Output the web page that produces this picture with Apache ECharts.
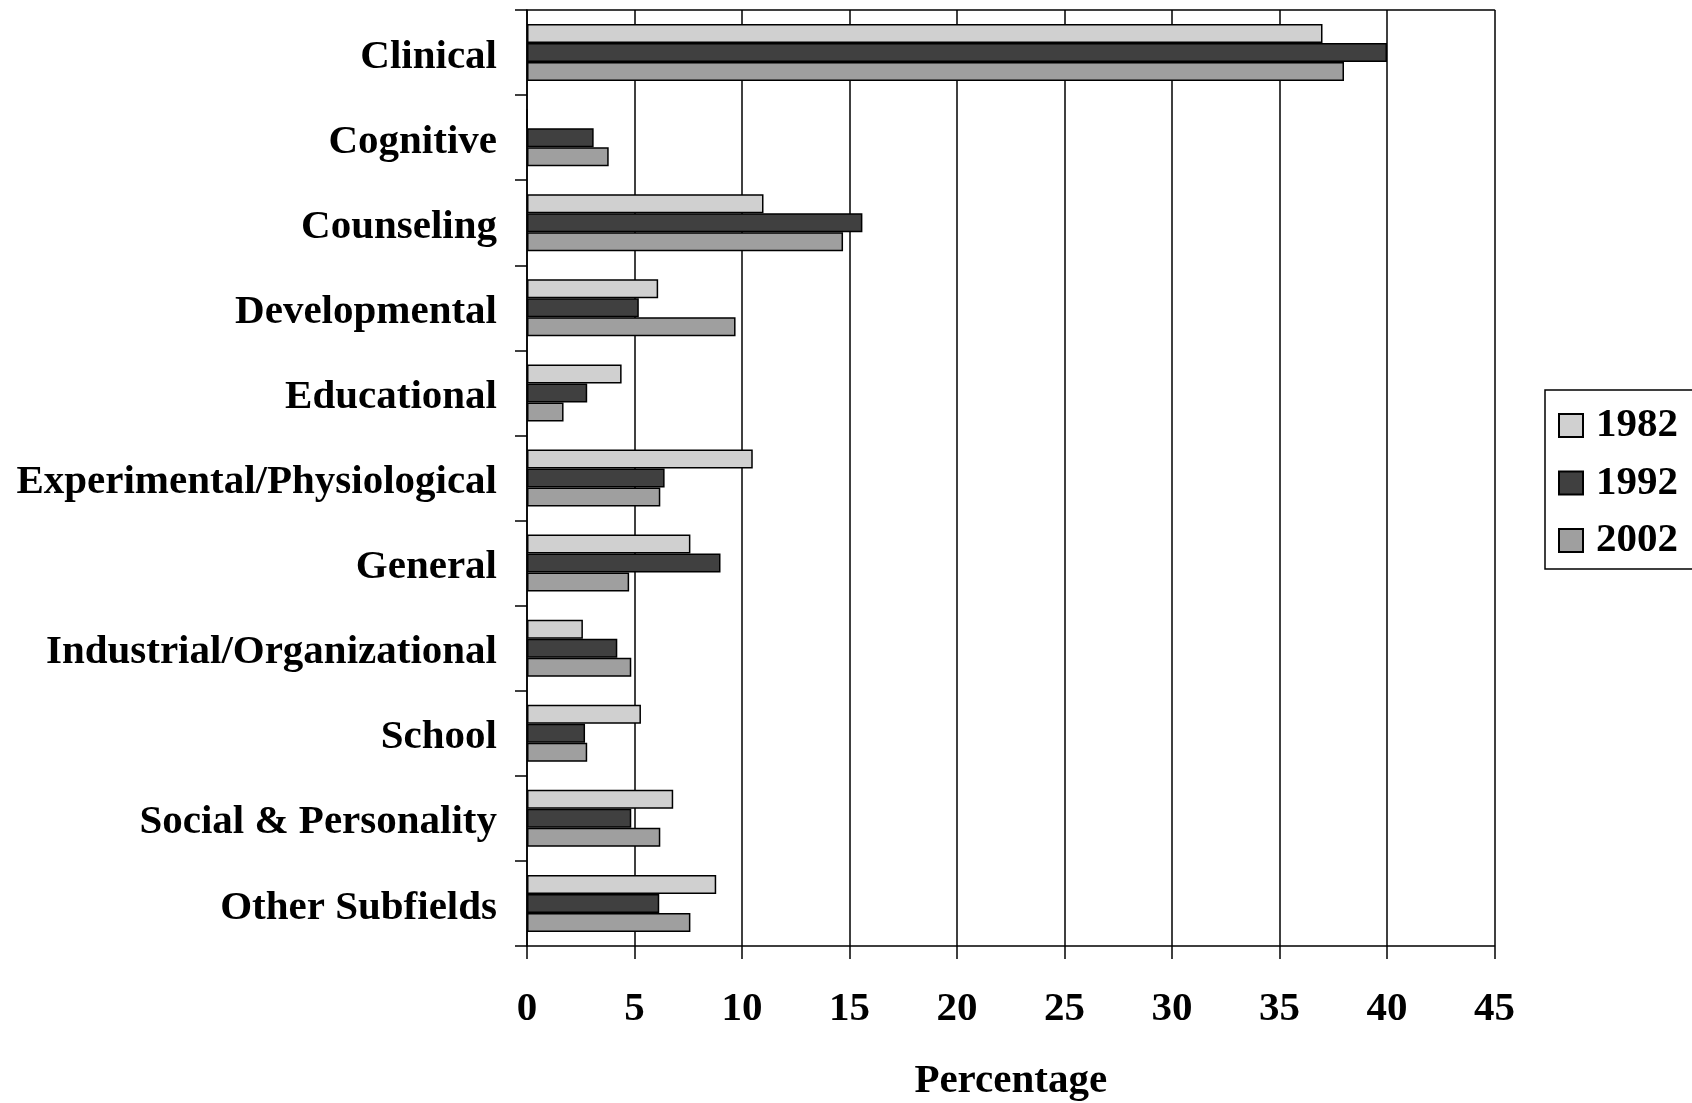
<!DOCTYPE html>
<html>
<head>
<meta charset="utf-8">
<script src="https://cdn.jsdelivr.net/npm/echarts@6/dist/echarts.min.js"></script>
<style>
html,body{margin:0;padding:0;background:#fff;}
#chart{width:1692px;height:1103px;}
</style>
</head>
<body>
<div id="chart"></div>
<script>
const categories = ["Clinical","Cognitive","Counseling","Developmental","Educational","Experimental/Physiological","General","Industrial/Organizational","School","Social & Personality","Other Subfields"];
const seriesNames = ["1982","1992","2002"];
const values1982 = [37.0, 0, 11.0, 6.1, 4.4, 10.5, 7.6, 2.6, 5.3, 6.8, 8.8];
const values1992 = [40.0, 3.1, 15.6, 5.2, 2.8, 6.4, 9.0, 4.2, 2.7, 4.85, 6.15];
const values2002 = [38.0, 3.8, 14.7, 9.7, 1.7, 6.2, 4.75, 4.85, 2.8, 6.2, 7.6];
const xTicks = {min: 0, max: 45, interval: 5};
const colors = ["#d0d0d0", "#404040", "#9f9f9f"];

const FONT = '"Liberation Serif", "Times New Roman", serif';
const allValues = [values1982, values1992, values2002];

const chart = echarts.init(document.getElementById('chart'), null, {renderer: 'canvas'});
const option = {
  backgroundColor: '#ffffff',
  animation: false,
  grid: {left: 527, right: 197.5, top: 10, bottom: 157, containLabel: false, outerBoundsMode: 'none'},
  legend: {
    orient: 'vertical',
    left: 1545,
    top: 390,
    padding: [15, 30, 8, 13],
    itemWidth: 24,
    itemHeight: 23,
    itemGap: 16.5,
    icon: 'rect',
    borderColor: '#000',
    borderWidth: 1.5,
    backgroundColor: '#fff',
    data: seriesNames,
    textStyle: {fontFamily: FONT, fontWeight: 'bold', fontSize: 41, color: '#000', lineHeight: 34, padding: [0, 0, 0, 8]}
  },
  xAxis: [{
    type: 'value',
    position: 'bottom',
    min: xTicks.min, max: xTicks.max, interval: xTicks.interval,
    name: 'Percentage',
    nameLocation: 'middle',
    nameGap: 115,
    nameTextStyle: {fontFamily: FONT, fontWeight: 'bold', fontSize: 41, color: '#000'},
    axisLine: {show: true, lineStyle: {color: '#000', width: 1.5}},
    axisTick: {show: true, length: 13, lineStyle: {color: '#000', width: 1.5}},
    axisLabel: {margin: 43, fontFamily: FONT, fontWeight: 'bold', fontSize: 41, color: '#000'},
    splitLine: {show: true, lineStyle: {color: '#000', width: 1.5}}
  }, {
    type: 'value',
    position: 'top',
    min: xTicks.min, max: xTicks.max, interval: xTicks.interval,
    axisLine: {show: true, lineStyle: {color: '#000', width: 1.5}},
    axisTick: {show: false},
    axisLabel: {show: false},
    splitLine: {show: false}
  }],
  yAxis: {
    type: 'category',
    inverse: true,
    data: categories,
    boundaryGap: true,
    axisLine: {show: true, lineStyle: {color: '#000', width: 1.5}},
    axisTick: {show: true, length: 12, interval: 0, lineStyle: {color: '#000', width: 1.5}},
    axisLabel: {
      margin: 30, interval: 0,
      formatter: (v) => '{a|' + v + '}',
      rich: {a: {fontFamily: FONT, fontWeight: 'bold', fontSize: 41, color: '#000', padding: [9, 0, 0, 0]}},
      fontFamily: FONT, fontWeight: 'bold', fontSize: 41, color: '#000'
    },
    splitLine: {show: false}
  },
  series: seriesNames.map((name, i) => ({
    name: name,
    type: 'bar',
    xAxisIndex: 0,
    data: allValues[i],
    barWidth: 19,
    barGap: '0%',
    itemStyle: {color: colors[i], borderColor: '#000', borderWidth: 1.5}
  }))
};
chart.setOption(option);
</script>
</body>
</html>
